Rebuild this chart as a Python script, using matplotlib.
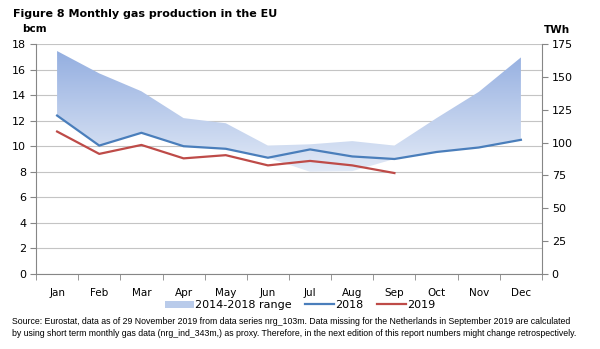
import numpy as np
import matplotlib
matplotlib.use("Agg")
import matplotlib.pyplot as plt
from matplotlib.patches import Patch
from matplotlib.lines import Line2D
from matplotlib.colors import LinearSegmentedColormap

months = ["Jan", "Feb", "Mar", "Apr", "May", "Jun", "Jul", "Aug", "Sep", "Oct", "Nov", "Dec"]
range_max = [17.45, 15.7, 14.3, 12.2, 11.8, 10.05, 10.15, 10.4, 10.05, 12.2, 14.25, 16.95]
range_min = [12.4, 10.05, 11.05, 10.0, 9.8, 9.1, 8.0, 8.05, 9.0, 9.55, 9.9, 10.5]
y2018 = [12.4, 10.05, 11.05, 10.0, 9.8, 9.1, 9.75, 9.2, 9.0, 9.55, 9.9, 10.5]
y2019 = [11.15, 9.4, 10.1, 9.05, 9.3, 8.5, 8.85, 8.5, 7.9]

plt.rcParams['font.family'] = ['DejaVu Sans']
fig = plt.figure(figsize=(6.0, 3.49), dpi=100)
ax = fig.add_axes([36/600, 1-274/349, (542-36)/600, (274-44)/349])

x = np.arange(len(months))
ax.set_xlim(-0.5, 11.5)
ax.set_ylim(0, 18)

# gradient band
poly = ax.fill_between(x, range_min, range_max, color='none', lw=0)
cmap = LinearSegmentedColormap.from_list('g', ['#e4ebf7', '#93aee0'])
grad = np.linspace(0, 1, 256).reshape(-1, 1)
im = ax.imshow(grad, cmap=cmap, aspect='auto', origin='lower',
               extent=[-0.5, 11.5, 7.8, 17.5], zorder=2, interpolation='bilinear')
path = poly.get_paths()[0]
im.set_clip_path(path, transform=ax.transData)

ax.plot(x, y2018, color='#4a7ebb', lw=1.6, zorder=3)
ax.plot(x[:len(y2019)], y2019, color='#be4b48', lw=1.6, zorder=3)

ax.set_yticks(np.arange(0, 19, 2))
ax.grid(axis='y', color='#c4c4c4', lw=0.8, zorder=0)
ax.set_axisbelow(True)
ax.set_xticks(x)
ax.set_xticklabels(months)
ax.set_xticks(np.arange(-0.5, 12, 1), minor=True)
ax.tick_params(axis='x', which='major', length=0, pad=10, labelsize=7.5, colors='#000000')
ax.tick_params(axis='x', which='minor', length=4, color='#868686', direction='out')
ax.tick_params(axis='y', length=4, color='#868686', labelsize=8, pad=3)
for s in ['top', 'right']:
    ax.spines[s].set_visible(False)
for s in ['left', 'bottom']:
    ax.spines[s].set_color('#868686')

ax2 = ax.twinx()
ax2.set_ylim(0, 175)
ax2.set_yticks(np.arange(0, 176, 25))
ax2.tick_params(axis='y', length=4, color='#868686', labelsize=8, pad=3)
for s in ['top', 'left', 'bottom']:
    ax2.spines[s].set_visible(False)
ax2.spines['right'].set_color('#868686')

fig.text(13/600, 1-14/349, "Figure 8 Monthly gas production in the EU", fontsize=8,
         fontweight='bold', va='center', ha='left')
fig.text(22/600, 1-29/349, "bcm", fontsize=7.5, fontweight='bold', va='center', ha='left')
fig.text(544/600, 1-30/349, "TWh", fontsize=7.5, fontweight='bold', va='center', ha='left')

handles = [Patch(facecolor='#b9cbea', edgecolor='none'),
           Line2D([0], [0], color='#4a7ebb', lw=1.6),
           Line2D([0], [0], color='#be4b48', lw=1.6)]
fig.legend(handles, ["2014-2018 range", "2018", "2019"], loc='center',
           bbox_to_anchor=(300/600, 1-305/349), ncol=3, frameon=False, fontsize=8,
           handlelength=2.6, handletextpad=0.1, columnspacing=1.2, handleheight=0.6)

fig.text(12/600, 1-322/349,
         "Source: Eurostat, data as of 29 November 2019 from data series nrg_103m. Data missing for the Netherlands in September 2019 are calculated",
         fontsize=6.35, family='Liberation Sans', va='center', ha='left')
fig.text(12/600, 1-334/349,
         "by using short term monthly gas data (nrg_ind_343m,) as proxy. Therefore, in the next edition of this report numbers might change retrospectively.",
         fontsize=6.35, family='Liberation Sans', va='center', ha='left')

fig.savefig("out.png", dpi=100)
